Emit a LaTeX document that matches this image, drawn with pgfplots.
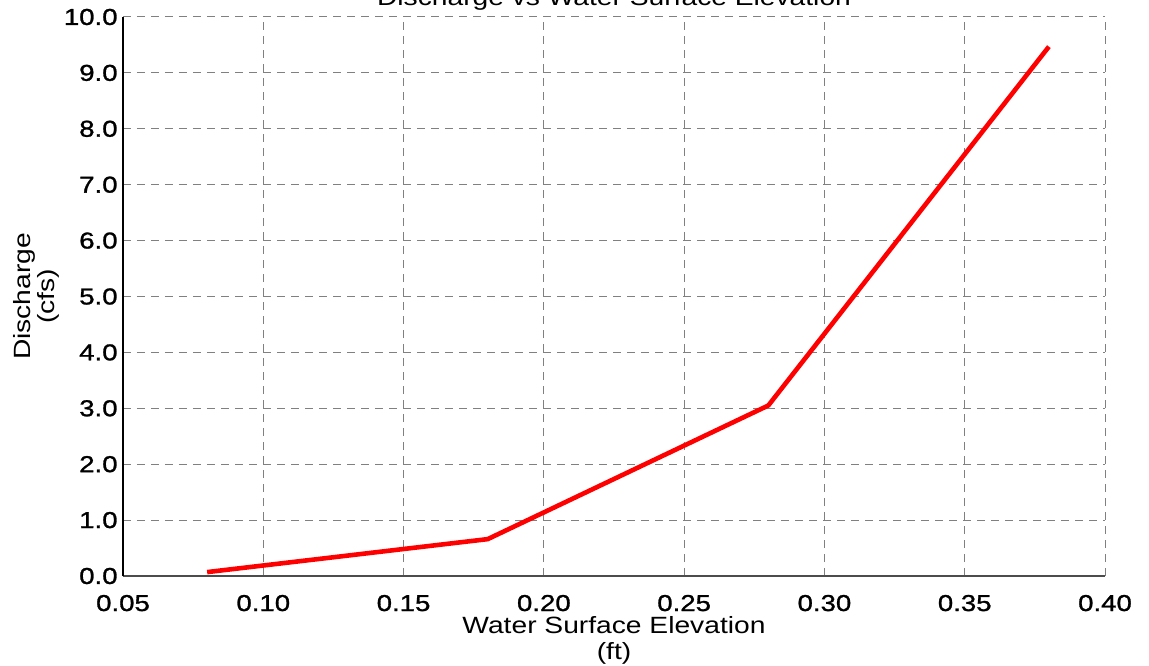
\documentclass[border=0pt]{standalone}
\usepackage{fontspec}
\setmainfont{Liberation Sans}[FakeStretch=1.2]
\newfontfamily\tickfont{Liberation Sans}[FakeStretch=1.2, FakeBold=1.2]
\usepackage{pgfplots}
\pgfplotsset{compat=1.18}

\begin{document}
\begin{tikzpicture}
\path[use as bounding box] (-61.5pt,-44.5pt) rectangle (513pt,288pt);
\begin{axis}[
  at={(0,0)}, anchor=south west,
  scale only axis,
  width=491pt, height=279.5pt,
  xmin=0.05, xmax=0.40,
  ymin=0, ymax=10,
  clip=false,
  xtick={0.05,0.10,0.15,0.20,0.25,0.30,0.35,0.40},
  ytick={0,1,2,3,4,5,6,7,8,9,10},
  /pgf/number format/assume math mode=true,
  xticklabel style={/pgf/number format/.cd, fixed, fixed zerofill, precision=2,
    /tikz/.cd, anchor=base, inner sep=0pt, yshift=-17.5pt},
  yticklabel style={/pgf/number format/.cd, fixed, fixed zerofill, precision=1,
    /tikz/.cd, anchor=east, inner sep=0pt, xshift=-2.5pt},
  tick label style={font=\tickfont\fontsize{11.5}{13}\selectfont},
  grid=major,
  grid style={dash pattern=on 4pt off 3pt, gray, line width=0.5pt},
  axis x line*=bottom,
  axis y line*=left,
  x axis line style={-, black!70, line width=1pt},
  y axis line style={-, black, line width=0.75pt},
  major tick length=0pt,
  xlabel={Water Surface Elevation\\(ft)},
  xlabel style={at={(axis description cs:0.5,0)}, anchor=north, align=center,
    inner sep=0pt, yshift=-20pt, font=\fontsize{11.75}{13}\selectfont},
  ylabel={Discharge\\(cfs)},
  ylabel style={at={(axis description cs:-0.064,0.5)}, anchor=south,
    align=center, inner sep=0pt, font=\fontsize{11.75}{10.5}\selectfont},
]
\addplot[red, line width=2.3pt, line join=round] coordinates {
(0.08, 0.07) (0.18, 0.66) (0.28, 3.05) (0.38, 9.47)
};
\node[anchor=base, inner sep=0pt, font=\fontsize{11.75}{13}\selectfont]
  at ([yshift=5.5pt]rel axis cs:0.5,1) {Discharge vs Water Surface Elevation};
\end{axis}
\end{tikzpicture}
\end{document}
